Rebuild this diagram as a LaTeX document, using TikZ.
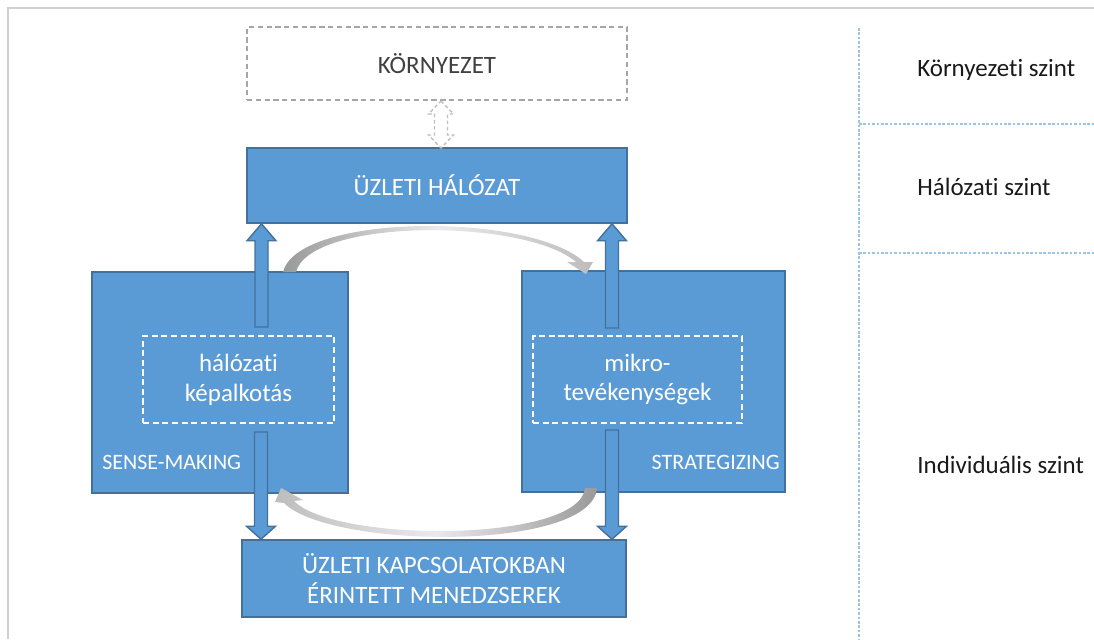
\documentclass[tikz,border=0pt]{standalone}
\usepackage{fontspec}
\setmainfont{Carlito}[Ligatures={NoCommon}]
\usetikzlibrary{calc}
\definecolor{boxblue}{HTML}{5B9BD5}
\definecolor{boxedge}{HTML}{41719C}
\definecolor{envgray}{HTML}{A6A6A6}
\definecolor{dagray}{HTML}{BFBFBF}
\definecolor{divblue}{HTML}{9DC3E6}
\definecolor{framegray}{HTML}{D0D0D0}
\definecolor{cadark}{HTML}{999999}
\definecolor{calight}{HTML}{EAEAEE}
\definecolor{camid}{HTML}{BDBDBD}
\newlength\pxu \setlength\pxu{0.02cm}
\newcommand\ArrUp[2]{\draw[barrow] ($(#1)+(-6.5,0)$) -- ($(#2)+(-6.5,17)$) -- ($(#2)+(-14.5,17)$) -- (#2) -- ($(#2)+(14.5,17)$) -- ($(#2)+(6.5,17)$) -- ($(#1)+(6.5,0)$) -- cycle;}
\newcommand\ArrDown[2]{\draw[barrow] ($(#1)+(-6.5,0)$) -- ($(#2)+(-6.5,-13)$) -- ($(#2)+(-14.5,-13)$) -- (#2) -- ($(#2)+(14.5,-13)$) -- ($(#2)+(6.5,-13)$) -- ($(#1)+(6.5,0)$) -- cycle;}
\begin{document}
\begin{tikzpicture}[x=0.02cm,y=-0.02cm,
  mainfont/.style={font=\fontsize{14.2}{17}\selectfont},
  bluebox/.style={draw=boxedge,fill=boxblue,line width=0.9pt,text=white,inner sep=0pt,align=center,mainfont},
  envbox/.style={draw=envgray,dash pattern=on 3pt off 2pt,line width=0.8pt,text=black!75,inner sep=0pt,mainfont},
  innerbox/.style={draw=white,dash pattern=on 3.5pt off 2pt,line width=1pt,text=white,inner sep=0pt,align=center,mainfont},
  sidelabel/.style={text=white,inner sep=0pt,font=\fontsize{12.5}{15}\selectfont},
  levellabel/.style={text=black!90,inner sep=0pt,anchor=west,mainfont},
  barrow/.style={draw=boxedge,fill=boxblue,line width=0.8pt,line join=miter},
  hollowarrow/.style={draw=dagray,fill=white,dash pattern=on 2pt off 1.5pt,line width=0.8pt},
  divider/.style={draw=divblue,dash pattern=on 1.5pt off 1pt,line width=0.6pt},
  frameline/.style={draw=framegray,line width=2\pxu}
]
\useasboundingbox (0,0) rectangle (1094,639);
\fill[white] (0,0) rectangle (1094,639);
% frame
\draw[frameline] (7,8) -- (1094,8);
\draw[frameline] (8,8) -- (8,639);

% level dividers
\coordinate (vtop) at (859,28);
\coordinate (vbot) at (859,639);
\coordinate (h1a) at (859,124);
\coordinate (h1b) at (1094,124);
\coordinate (h2a) at (859,253);
\coordinate (h2b) at (1094,253);
\draw[divider] (vtop) -- (vbot);
\draw[divider] (h1a) -- (h1b);
\draw[divider] (h2a) -- (h2b);
\node[levellabel] (lv1) at (917,70) {Környezeti szint};
\node[levellabel] (lv2) at (917,187) {Hálózati szint};
\node[levellabel] (lv3) at (917,465) {Individuális szint};

% boxes
\node[envbox,minimum width=380\pxu,minimum height=73\pxu] (env) at (437,63.5) {KÖRNYEZET};
\node[bluebox,minimum width=380\pxu,minimum height=75\pxu] (uh) at (437,185.5) {ÜZLETI HÁLÓZAT};
\node[bluebox,minimum width=256\pxu,minimum height=221\pxu] (sm) at (220,382.5) {};
\node[bluebox,minimum width=263\pxu,minimum height=221\pxu] (st) at (653.5,381.5) {};
\node[bluebox,minimum width=384\pxu,minimum height=77\pxu] (mgr) at (434,578.5) {ÜZLETI KAPCSOLATOKBAN\\ÉRINTETT MENEDZSEREK};
\node[innerbox,minimum width=191\pxu,minimum height=87\pxu] (smin) at (238.5,379.5) {hálózati\\képalkotás};
\node[innerbox,minimum width=209\pxu,minimum height=87\pxu] (stin) at (637.5,379.5) {mikro-\\tevékenységek};
\node[sidelabel,anchor=west] (smlab) at (102,462) {SENSE-MAKING};
\node[sidelabel,anchor=east] (stlab) at (780,462) {STRATEGIZING};

% hollow double arrow between environment and network
\coordinate (da1) at (441,101);
\coordinate (da2) at (441,148);
\draw[hollowarrow] (da1) -- ($(da1)+(12.5,13)$) -- ($(da1)+(6.5,13)$) -- ($(da2)+(6.5,-13)$) -- ($(da2)+(12.5,-13)$) -- (da2) -- ($(da2)+(-12.5,-13)$) -- ($(da2)+(-6.5,-13)$) -- ($(da1)+(-6.5,13)$) -- ($(da1)+(-12.5,13)$) -- cycle;

% curved grey arrows
\shade[left color=cadark,right color=camid,middle color=calight]
  (283,272) .. controls (298,213) and (530,212) .. (584,262) -- (593,262) -- (586,274) -- (567,262) -- (576,262)
  .. controls (525,218) and (310,218) .. (296,272) -- cycle;
\shade[left color=camid,right color=cadark,middle color=calight]
  (597,488) .. controls (592,552) and (330,549) .. (284,503) -- (275,502) -- (281,488) -- (303,500) -- (294,501)
  .. controls (335,543) and (580,543) .. (585,488) -- cycle;

% blue block arrows
\coordinate (lu1) at (261.5,327);
\coordinate (lu2) at (lu1 |- uh.south);
\coordinate (ru1) at (612,328);
\coordinate (ru2) at (ru1 |- uh.south);
\coordinate (ld1) at (261,432);
\coordinate (ld2) at (ld1 |- mgr.north);
\coordinate (rd1) at (612,430);
\coordinate (rd2) at (rd1 |- mgr.north);
\ArrUp{lu1}{lu2}
\ArrUp{ru1}{ru2}
\ArrDown{ld1}{ld2}
\ArrDown{rd1}{rd2}
\end{tikzpicture}
\end{document}
